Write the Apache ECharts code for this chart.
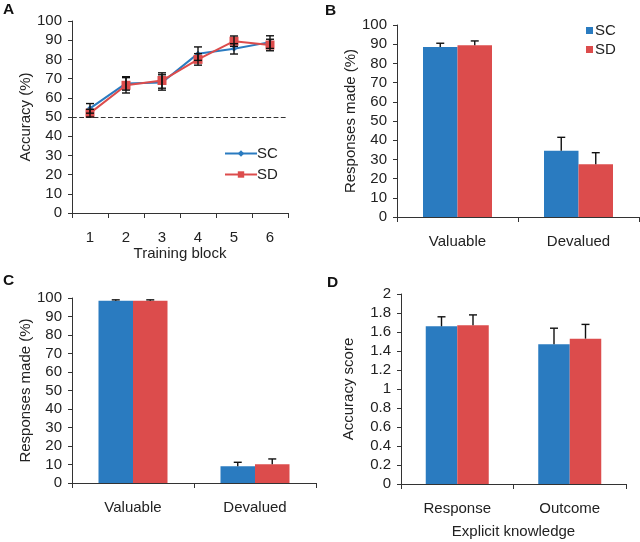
<!DOCTYPE html>
<html>
<head>
<meta charset="utf-8">
<script src="https://cdn.jsdelivr.net/npm/echarts@6/dist/echarts.min.js"></script>
<style>html,body{margin:0;padding:0;background:#fff}#c{width:640px;height:542px}</style>
</head>
<body>
<div id="c"></div>
<script>
// Panel A: accuracy across training blocks
const blocks = ['1', '2', '3', '4', '5', '6'];
const accSC = [54.5, 67.5, 68, 83, 85.5, 89];
const accSD = [52, 66.5, 69, 80, 89.5, 87.5];
const accSCerr = [2.5, 3.5, 4, 3.5, 2.7, 3.3];
const accSDerr = [2, 4, 4, 3, 2.7, 3];
const chanceLevel = 50;

// Panels B and C: responses made
const respCats = ['Valuable', 'Devalued'];
const bSC = [88.5, 34.5];
const bSD = [89.5, 27.5];
const bSCerr = [2, 7];
const bSDerr = [2.2, 6];
const cSC = [98.5, 9];
const cSD = [98.5, 10.2];
const cSCerr = [0.5, 2.2];
const cSDerr = [0.5, 2.8];

// Panel D: explicit knowledge
const knowCats = ['Response', 'Outcome'];
const dSC = [1.66, 1.47];
const dSD = [1.67, 1.53];
const dSCerr = [0.1, 0.17];
const dSDerr = [0.11, 0.15];

const BLUE = '#2a7bc0';
const RED = '#dc4c4c';
const FONT = 'Liberation Sans, Arial, sans-serif';
const TXT = '#222';
const FS = 15;

function errSeries(xi, yi, vals, errs, offset, both, capW) {
  return {
    type: 'custom', xAxisIndex: xi, yAxisIndex: yi, z: 10, silent: true,
    data: vals.map((v, i) => [i, v, errs[i]]),
    renderItem: function (params, api) {
      const x = api.value(0), v = api.value(1), e = api.value(2);
      const top = api.coord([x, v + e]);
      const bot = api.coord([x, both ? v - e : v]);
      const cx = top[0] + offset;
      const st = { stroke: '#111', lineWidth: 1.4 };
      const ch = [
        { type: 'line', shape: { x1: cx, y1: top[1], x2: cx, y2: bot[1] }, style: st },
        { type: 'line', shape: { x1: cx - capW / 2, y1: top[1], x2: cx + capW / 2, y2: top[1] }, style: st }
      ];
      if (both) ch.push({ type: 'line', shape: { x1: cx - capW / 2, y1: bot[1], x2: cx + capW / 2, y2: bot[1] }, style: st });
      return { type: 'group', children: ch };
    }
  };
}

function catAxis(gi, data, name, nameGap) {
  return {
    type: 'category', gridIndex: gi, data: data,
    axisLine: { lineStyle: { color: '#333', width: 1 } },
    axisTick: { show: true, length: 5, lineStyle: { color: '#333' } },
    axisLabel: { color: TXT, fontSize: FS, fontFamily: FONT, margin: 17 },
    name: name, nameLocation: 'middle', nameGap: nameGap,
    nameTextStyle: { color: TXT, fontSize: FS, fontFamily: FONT }
  };
}
function valAxis(gi, min, max, interval, name, nameGap) {
  return {
    type: 'value', gridIndex: gi, min: min, max: max, interval: interval,
    axisLine: { show: true, lineStyle: { color: '#333', width: 1 } },
    axisTick: { show: true, length: 4, lineStyle: { color: '#333' } },
    splitLine: { show: false },
    axisLabel: { color: TXT, fontSize: FS, fontFamily: FONT, margin: 10 },
    name: name, nameLocation: 'middle', nameGap: nameGap,
    nameTextStyle: { color: TXT, fontSize: FS, fontFamily: FONT }
  };
}

const letterStyle = { fontSize: 15.5, fontWeight: 'bold', color: '#111', fontFamily: FONT };
const chart = echarts.init(document.getElementById('c'), null, { renderer: 'canvas' });
chart.setOption({
  animation: false,
  backgroundColor: '#fff',
  title: [
    { text: 'A', left: 1, top: 0, padding: 2, textStyle: letterStyle },
    { text: 'B', left: 323, top: 1, padding: 2, textStyle: letterStyle },
    { text: 'C', left: 1, top: 271, padding: 2, textStyle: letterStyle },
    { text: 'D', left: 325, top: 273, padding: 2, textStyle: letterStyle }
  ],
  legend: [
    {
      data: ['SC', 'SD'], orient: 'vertical', left: 219, top: 141, itemGap: 6,
      itemWidth: 32, itemHeight: 8,
      textStyle: { color: TXT, fontSize: FS, fontFamily: FONT, padding: [0, 0, 0, -5] }
    },
    {
      data: [{ name: 'SC', icon: 'rect' }, { name: 'SD', icon: 'rect' }],
      orient: 'vertical', left: 581, top: 18, itemGap: 4,
      itemWidth: 7, itemHeight: 7,
      textStyle: { color: TXT, fontSize: FS, fontFamily: FONT, padding: [0, 0, 0, -3] }
    }
  ],
  grid: [
    { left: 72, top: 21, width: 216, height: 192 },
    { left: 397, top: 25, width: 242, height: 192 },
    { left: 72, top: 298, width: 244, height: 185 },
    { left: 401, top: 294, width: 225, height: 190 }
  ],
  xAxis: [
    catAxis(0, blocks, 'Training block', 31),
    catAxis(1, respCats, '', 0),
    catAxis(2, respCats, '', 0),
    catAxis(3, knowCats, 'Explicit knowledge', 40)
  ],
  yAxis: [
    valAxis(0, 0, 100, 10, 'Accuracy (%)', 36),
    valAxis(1, 0, 100, 10, 'Responses made (%)', 34),
    valAxis(2, 0, 100, 10, 'Responses made (%)', 33),
    valAxis(3, 0, 2, 0.2, 'Accuracy score', 45)
  ],
  series: [
    {
      name: 'SC', type: 'line', xAxisIndex: 0, yAxisIndex: 0, data: accSC,
      color: BLUE, symbol: 'diamond', symbolSize: 6,
      lineStyle: { width: 2, color: BLUE }, itemStyle: { color: BLUE },
      markLine: {
        silent: true, symbol: 'none', label: { show: false },
        lineStyle: { type: 'dashed', color: '#333', width: 1.2 },
        data: [{ yAxis: chanceLevel }]
      }
    },
    {
      name: 'SD', type: 'line', xAxisIndex: 0, yAxisIndex: 0, data: accSD,
      color: RED, symbol: 'rect', symbolSize: 9,
      lineStyle: { width: 2, color: RED }, itemStyle: { color: RED }
    },
    errSeries(0, 0, accSC, accSCerr, 0, true, 8),
    errSeries(0, 0, accSD, accSDerr, 0, true, 8),

    { name: 'SC', type: 'bar', xAxisIndex: 1, yAxisIndex: 1, data: bSC, color: BLUE, barWidth: 34.5, barGap: '0%', itemStyle: { color: BLUE } },
    { name: 'SD', type: 'bar', xAxisIndex: 1, yAxisIndex: 1, data: bSD, color: RED, barWidth: 34.5, barGap: '0%', itemStyle: { color: RED } },
    errSeries(1, 1, bSC, bSCerr, -17.25, false, 8),
    errSeries(1, 1, bSD, bSDerr, 17.25, false, 8),

    { name: 'SC', type: 'bar', xAxisIndex: 2, yAxisIndex: 2, data: cSC, color: BLUE, barWidth: 34.5, barGap: '0%', itemStyle: { color: BLUE } },
    { name: 'SD', type: 'bar', xAxisIndex: 2, yAxisIndex: 2, data: cSD, color: RED, barWidth: 34.5, barGap: '0%', itemStyle: { color: RED } },
    errSeries(2, 2, cSC, cSCerr, -17.25, false, 8),
    errSeries(2, 2, cSD, cSDerr, 17.25, false, 8),

    { name: 'SC', type: 'bar', xAxisIndex: 3, yAxisIndex: 3, data: dSC, color: BLUE, barWidth: 31.5, barGap: '0%', itemStyle: { color: BLUE } },
    { name: 'SD', type: 'bar', xAxisIndex: 3, yAxisIndex: 3, data: dSD, color: RED, barWidth: 31.5, barGap: '0%', itemStyle: { color: RED } },
    errSeries(3, 3, dSC, dSCerr, -15.75, false, 8),
    errSeries(3, 3, dSD, dSDerr, 15.75, false, 8)
  ]
});
</script>
</body>
</html>
